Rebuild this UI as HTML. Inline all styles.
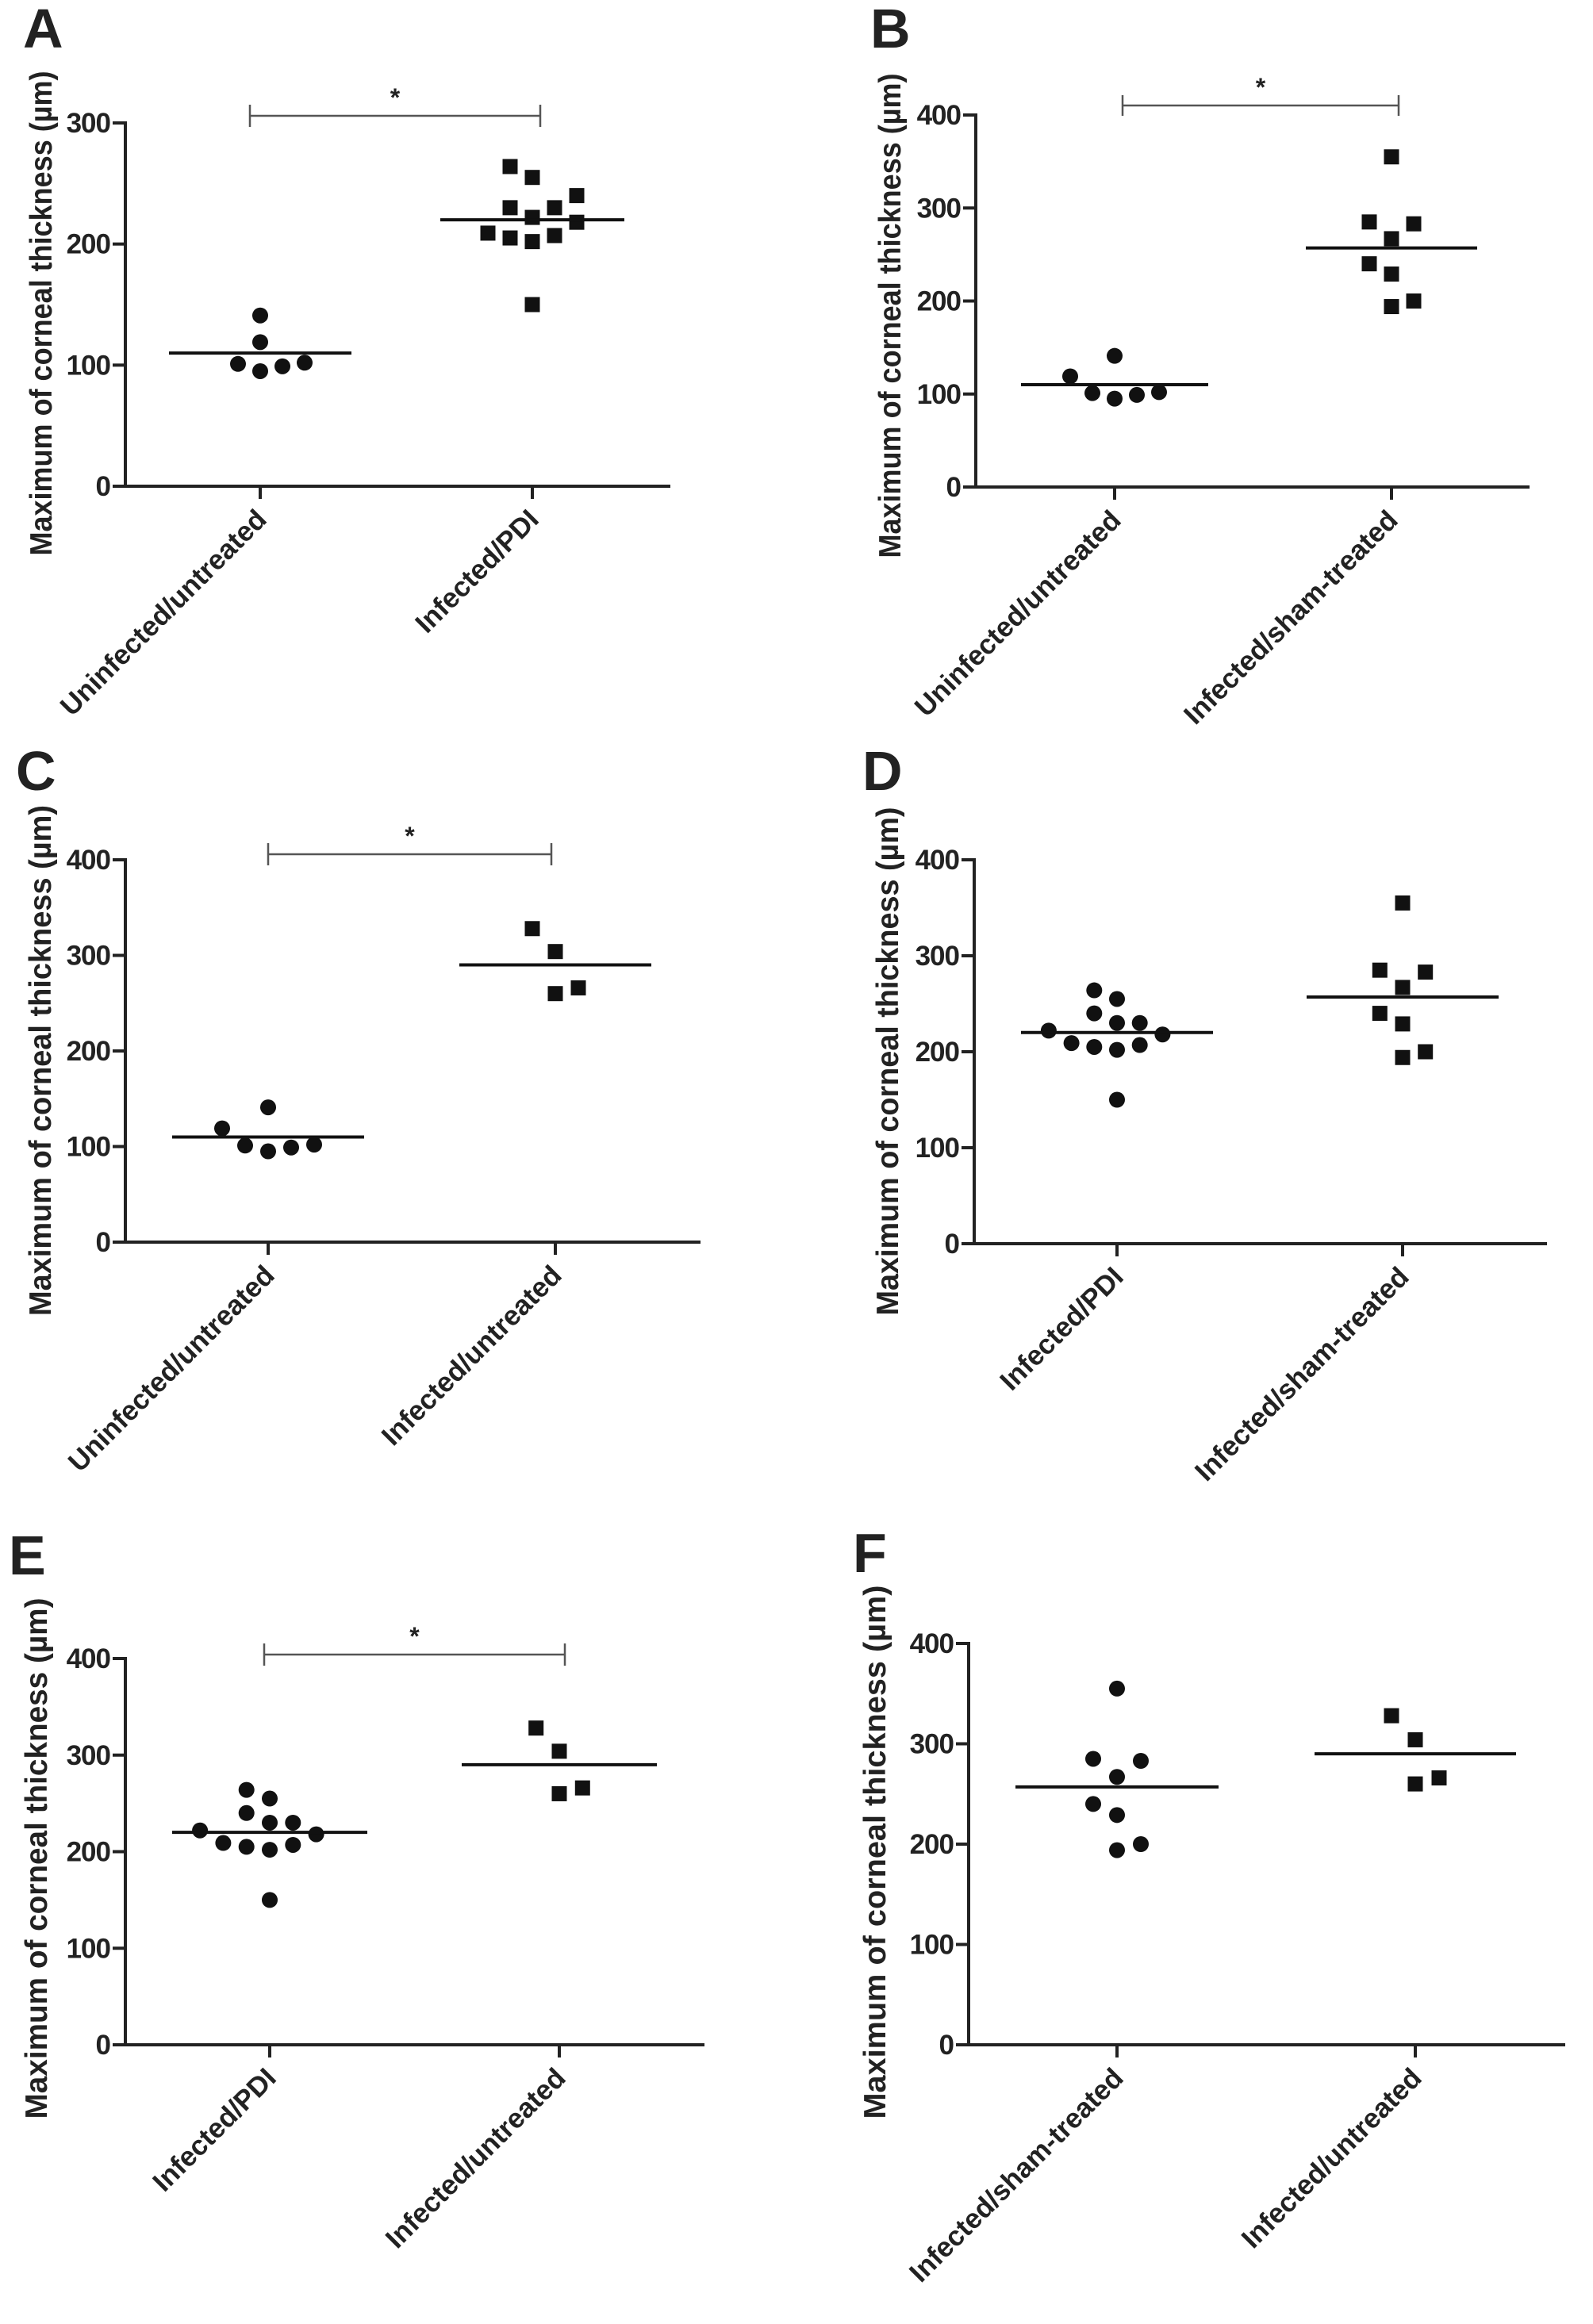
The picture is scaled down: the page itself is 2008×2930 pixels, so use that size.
<!DOCTYPE html>
<html><head><meta charset="utf-8"><style>
html,body{margin:0;padding:0;background:#fff}
svg{display:block}
text{font-family:"Liberation Sans",Arial,sans-serif;font-weight:bold;fill:#222}
</style></head><body>
<svg id="fig" width="2008" height="2930" viewBox="0 0 2008 2930" xmlns="http://www.w3.org/2000/svg"></svg>
<script>
// ---- data ----
const uninfVals = [141,119,101,95,99,102];
const pdiVals = [264,255,240,230,230,222,218,209,205,202,207,150];
const shamVals = [355,285,283,267,240,229,194,200];
const untrVals = [328,304,260,266];
const groupMeans = {uninf:110, pdi:220, sham:257, untr:290};
const groupLabels = {uninf:"Uninfected/untreated", pdi:"Infected/PDI", sham:"Infected/sham-treated", untr:"Infected/untreated"};
const ticks300 = [0,100,200,300];
const ticks400 = [0,100,200,300,400];
// jitter slots (column index within a group)
const uninfSlotsA = [0,0,-1,0,1,2];
const uninfSlotsB = [0,-2,-1,0,1,2];
const pdiSlotsA = [-1,0,2,-1,1,0,2,-2,-1,0,1,0];
const pdiSlotsD = [-1,0,-1,0,1,-3,2,-2,-1,0,1,0];
const shamSlots = [0,-1,1,0,-1,0,0,1];
const untrSlots = [-1,0,0,1];
const valsOf = {uninf:uninfVals, pdi:pdiVals, sham:shamVals, untr:untrVals};

const NS="http://www.w3.org/2000/svg";
const svg=document.getElementById('fig');
function mk(tag,attrs,parent){const e=document.createElementNS(NS,tag);for(const k in attrs)e.setAttribute(k,attrs[k]);(parent||svg).appendChild(e);return e;}

const panels=[
 {id:'a',letter:'A',lx:29,ly:60,ax:158,y0:613,yTop:155,yMax:300,ticks:ticks300,xEnd:845,gx:[328,671],slot:28,
  groups:[['uninf',uninfSlotsA,'circle'],['pdi',pdiSlotsA,'square']],half:[115,116],br:{y:146,x1:315,x2:681,h:14},tx:51,ty:395,tl:611},
 {id:'b',letter:'B',lx:1097,ly:60,ax:1230,y0:614,yTop:145,yMax:400,ticks:ticks400,xEnd:1928,gx:[1405,1754],slot:28,
  groups:[['uninf',uninfSlotsB,'circle'],['sham',shamSlots,'square']],half:[118,108],br:{y:133,x1:1415,x2:1763,h:13},tx:1121,ty:398,tl:611},
 {id:'c',letter:'C',lx:20,ly:996,ax:158,y0:1566,yTop:1084,yMax:400,ticks:ticks400,xEnd:883,gx:[338,700],slot:29,
  groups:[['uninf',uninfSlotsB,'circle'],['untr',untrSlots,'square']],half:[121,121],br:{y:1077,x1:338,x2:695,h:14},tx:50,ty:1337,tl:644},
 {id:'d',letter:'D',lx:1087,ly:996,ax:1228,y0:1568,yTop:1084,yMax:400,ticks:ticks400,xEnd:1950,gx:[1408,1768],slot:28.7,
  groups:[['pdi',pdiSlotsD,'circle'],['sham',shamSlots,'square']],half:[121,121],br:null,tx:1118,ty:1338,tl:641},
 {id:'e',letter:'E',lx:11,ly:1985,ax:158,y0:2578,yTop:2091,yMax:400,ticks:ticks400,xEnd:888,gx:[340,705],slot:29.3,
  groups:[['pdi',pdiSlotsD,'circle'],['untr',untrSlots,'square']],half:[123,123],br:{y:2086,x1:333,x2:712,h:14},tx:45,ty:2343,tl:657},
 {id:'f',letter:'F',lx:1075,ly:1982,ax:1221,y0:2578,yTop:2072,yMax:400,ticks:ticks400,xEnd:1973,gx:[1408,1784],slot:30,
  groups:[['sham',shamSlots,'circle'],['untr',untrSlots,'square']],half:[128,127],br:null,tx:1102,ty:2335,tl:673}
];

panels.forEach(p=>{
 const g=mk('g',{});
 
 
 const yS=v=>p.y0-(v/p.yMax)*(p.y0-p.yTop);
 const L=mk('text',{x:p.lx,y:p.ly,'font-size':70,fill:'#111'},g);L.textContent=p.letter;
 
 
 const ya=mk('line',{x1:p.ax,y1:p.yTop-2,x2:p.ax,y2:p.y0,stroke:'#222','stroke-width':4},g);
 
 
 const xa=mk('line',{x1:p.ax-16,y1:p.y0,x2:p.xEnd,y2:p.y0,stroke:'#222','stroke-width':4},g);
 
 
 p.ticks.forEach(t=>{
  const y=yS(t);
  mk('line',{x1:p.ax-16,y1:y,x2:p.ax,y2:y,stroke:'#222','stroke-width':4},g);
  const tl=mk('text',{x:p.ax-19,y:y+12,'font-size':35,'text-anchor':'end','letter-spacing':-1},g);
  tl.textContent=t;
  
  
 });
 const tt=mk('text',{x:0,y:0,'font-size':39,'text-anchor':'middle',transform:`translate(${p.tx+14},${p.ty}) rotate(-90)`,textLength:p.tl,lengthAdjust:'spacingAndGlyphs'},g);
 tt.textContent='Maximum of corneal thickness (µm)';
 
 
 p.groups.forEach((gr,gi)=>{
  const [key,slots,shape]=gr;const cx=p.gx[gi];const vals=valsOf[key];
  mk('line',{x1:cx,y1:p.y0,x2:cx,y2:p.y0+16,stroke:'#222','stroke-width':4},g);
  const xl=mk('text',{x:0,y:0,'font-size':35,'text-anchor':'end',transform:`translate(${cx+10},${p.y0+44}) rotate(-45)`},g);
  xl.textContent=groupLabels[key];
  
  
  vals.forEach((v,i)=>{
   const x=cx+slots[i]*p.slot,y=yS(v);
   let m;
   if(shape==='circle')m=mk('circle',{cx:x,cy:y,r:10,fill:'#111'},g);
   else m=mk('rect',{x:x-9.5,y:y-9.5,width:19,height:19,fill:'#111'},g);
   
   
  });
  const my=yS(groupMeans[key]);
  const ml=mk('line',{x1:cx-p.half[gi],y1:my,x2:cx+p.half[gi],y2:my,stroke:'#111','stroke-width':4},g);
  
  
 });
 if(p.br){
  const b=p.br;
  const bg=mk('g',{stroke:'#555','stroke-width':2.5},g);
  
  
  mk('line',{x1:b.x1,y1:b.y,x2:b.x2,y2:b.y},bg);
  mk('line',{x1:b.x1,y1:b.y-b.h,x2:b.x1,y2:b.y+b.h},bg);
  mk('line',{x1:b.x2,y1:b.y-b.h,x2:b.x2,y2:b.y+b.h},bg);
  const st=mk('text',{x:(b.x1+b.x2)/2,y:b.y-12,'font-size':32,'text-anchor':'middle',fill:'#333'},g);
  st.textContent='*';
  
  
 }
});
</script>
</body></html>
